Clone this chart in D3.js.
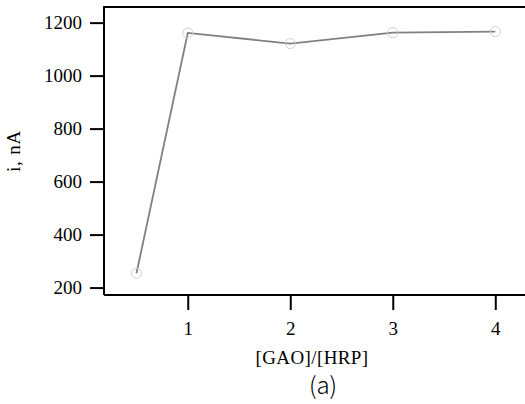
<!DOCTYPE html>
<html><head><meta charset="utf-8">
<script src="https://cdn.jsdelivr.net/npm/d3@7"></script>
<style>body{margin:0;background:#fff;}svg{display:block;}</style>
</head><body>
<script>
const ratios = [0.5, 1, 2, 3, 4];
const currents = [254, 1161, 1121, 1162, 1166];
const xTicks = [1, 2, 3, 4];
const yTicks = [200, 400, 600, 800, 1000, 1200];
const xTitle = "[GAO]/[HRP]";
const yTitle = "i, nA";
const caption = "(a)";

const W = 525, H = 404;
const L = 104, R = 525, T = 7, B = 295;
const svg = d3.select("body").append("svg").attr("width", W).attr("height", H);
const x = d3.scaleLinear().domain([0.183, 4.29]).range([L, R]);
const y = d3.scaleLinear().domain([172, 1259]).range([B, T]);
const serif = "'Liberation Serif', 'Times New Roman', serif";

svg.append("path").attr("d", `M${L},${B}V${T}H${R}`).attr("fill","none").attr("stroke","#000").attr("stroke-width",2);

const xa = svg.append("g").attr("transform", `translate(0,${B})`)
  .call(d3.axisBottom(x).tickValues(xTicks).tickSize(15).tickPadding(12).tickFormat(d3.format("d")));
const ya = svg.append("g").attr("transform", `translate(${L},0)`)
  .call(d3.axisLeft(y).tickValues(yTicks).tickSize(14).tickPadding(8).tickFormat(d3.format("d")));
[xa, ya].forEach(a => {
  a.attr("font-family", serif).attr("font-size", 19);
  a.select(".domain").attr("stroke","#000").attr("stroke-width",2).attr("d", a === xa ? `M${L},0H${R}` : `M0,${T}V${B}`);
  a.selectAll(".tick line").attr("stroke","#000").attr("stroke-width",2);
  a.selectAll("text").attr("fill","#000").style("font-size","19px").style("font-family", serif);
});

const line = d3.line().x((d,i)=>x(ratios[i])).y(d=>y(d));
svg.append("path").datum(currents).attr("d", line).attr("fill","none").attr("stroke","#808080").attr("stroke-width",1.8);
svg.selectAll("circle.pt").data(currents).join("circle").attr("class","pt")
  .attr("cx",(d,i)=>x(ratios[i])).attr("cy",d=>y(d)).attr("r",5)
  .attr("fill","none").attr("stroke","#cfcfcf").attr("stroke-width",1);

svg.append("text").attr("x", 312).attr("y", 364).attr("text-anchor","middle")
  .attr("font-family", serif).style("font-size","19px").attr("letter-spacing", 0.4).text(xTitle);
svg.append("text").attr("transform","translate(20,151) rotate(-90)").attr("text-anchor","middle")
  .attr("font-family", serif).style("font-size","19px").attr("letter-spacing", 0.8).text(yTitle);
svg.append("text").attr("x", 323).attr("y", 394).attr("text-anchor","middle")
  .attr("font-family", "'Noto Sans CJK KR', 'Noto Sans', sans-serif").attr("font-weight",300).style("font-size","24px").text(caption);
</script>
</body></html>
